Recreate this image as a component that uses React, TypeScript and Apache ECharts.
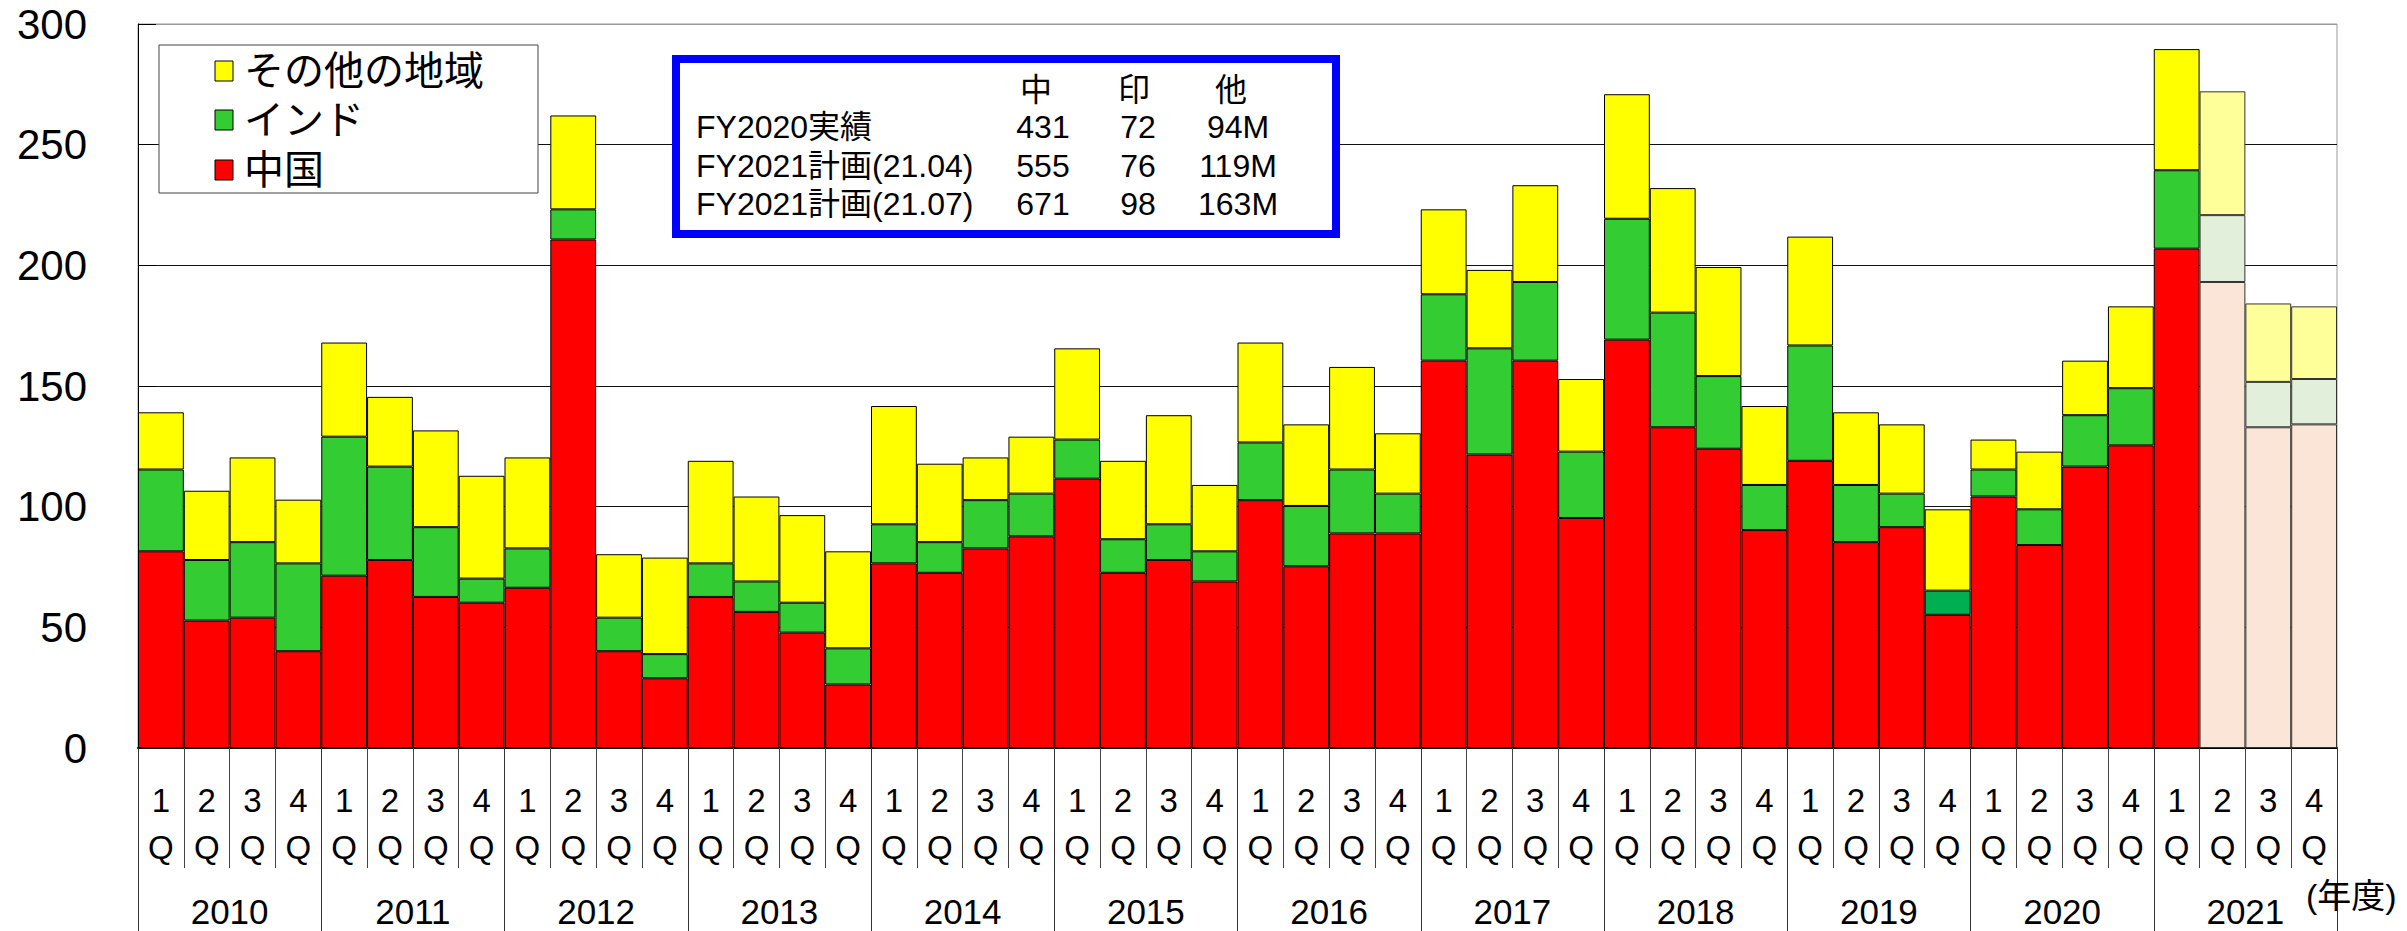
import React, { useEffect, useRef } from "react";
import * as echarts from "echarts";

const years = ["2010", "2011", "2012", "2013", "2014", "2015", "2016", "2017", "2018", "2019", "2020", "2021"];
const quarters = ["1", "2", "3", "4"];

// 中国
const china = [
  81.5, 52.8, 54.0, 40.1, 71.4, 77.9, 62.6, 60.2, 66.4, 210.7, 40.1, 28.9,
  62.6, 56.4, 47.8, 26.3, 76.5, 72.6, 82.7, 87.7, 111.6, 72.6, 77.9, 69.0,
  102.7, 75.3, 88.9, 88.9, 160.5, 121.6, 160.5, 95.3, 169.2, 132.9, 124.0, 90.3,
  119.0, 85.3, 91.5, 55.2, 104.2, 84.1, 116.6, 125.4, 206.9, 193.1, 132.9, 134.1,
];
// インド
const india = [
  33.9, 25.1, 31.3, 36.4, 57.6, 38.7, 28.9, 10.0, 16.3, 12.5, 13.9, 10.0,
  13.9, 12.6, 12.4, 15.0, 16.2, 12.7, 20.0, 17.7, 16.2, 13.9, 14.8, 12.5,
  23.9, 25.0, 26.5, 16.5, 27.5, 44.0, 32.6, 27.5, 50.1, 47.5, 30.1, 18.7,
  47.8, 23.7, 13.9, 10.0, 11.2, 14.8, 21.3, 23.7, 32.5, 27.7, 18.8, 18.8,
];
// その他の地域
const others = [
  23.7, 28.7, 35.1, 26.4, 39.0, 28.9, 40.1, 42.6, 37.7, 38.9, 26.3, 40.0,
  42.5, 35.2, 36.3, 40.2, 49.0, 32.5, 17.7, 23.6, 37.8, 32.5, 45.2, 27.5,
  41.4, 33.8, 42.5, 25.0, 35.2, 32.5, 40.1, 30.1, 51.6, 51.6, 45.2, 32.7,
  45.1, 30.1, 28.7, 33.7, 12.4, 23.9, 22.6, 33.9, 50.2, 51.3, 32.5, 30.1,
];

const forecastFrom = 45; // 2021 2Q onward are plan values
const darkGreenIndex = 39; // 2019 4Q India drawn in a darker green

const seriesNames = ["中国", "インド", "その他の地域"];
const legendOrder = ["その他の地域", "インド", "中国"];

const tableHeader = ["中", "印", "他"];
const tableRows = ["FY2020実績", "FY2021計画(21.04)", "FY2021計画(21.07)"];
const tableChina = ["431", "555", "671"];
const tableIndia = ["72", "76", "98"];
const tableOthers = ["94M", "119M", "163M"];

const yMin = 0;
const yMax = 300;
const yStep = 50;
const unitLabel = "(年度)";

const FONT = '"Liberation Sans", Arial, "Noto Sans CJK JP", sans-serif';
const solid = ["#FF0000", "#33CC33", "#FFFF00"];
const pale = ["#FBE5D6", "#E2EFDA", "#FFFF99"];

export default function App() {
  const ref = useRef<HTMLDivElement>(null);

  useEffect(() => {
    document.body.style.margin = "0";
    if (!ref.current) return;
    const chart = echarts.init(ref.current, undefined, { renderer: "svg" });

    const categories: string[] = [];
    years.forEach((y) => quarters.forEach((q) => categories.push(`${y}-${q}`)));

    const values = [china, india, others];
    const series = values.map((vals, s) => ({
      name: seriesNames[s],
      type: "bar",
      stack: "total",
      barCategoryGap: "0%",
      xAxisIndex: 0,
      yAxisIndex: 0,
      itemStyle: { borderColor: "#000", borderWidth: 1, color: solid[s] },
      emphasis: { disabled: true },
      data: vals.map((v, i) => ({
        value: v,
        itemStyle: {
          color:
            i >= forecastFrom
              ? pale[s]
              : s === 1 && i === darkGreenIndex
              ? "#00B050"
              : solid[s],
          borderColor: i >= forecastFrom ? "#333" : "#000",
        },
      })),
    }));

    const legendColor: Record<string, number> = { 中国: 0, インド: 1, その他の地域: 2 };
    const legendRowsY = [71, 120, 170];
    const graphics: any[] = [
      {
        type: "rect",
        z: 100,
        shape: { x: 159, y: 45, width: 379, height: 148 },
        style: { fill: "#fff", stroke: "#444", lineWidth: 1 },
      },
    ];
    legendOrder.forEach((name, k) => {
      graphics.push({
        type: "rect",
        z: 101,
        shape: { x: 215, y: legendRowsY[k] - 10, width: 18, height: 20 },
        style: { fill: solid[legendColor[name]], stroke: "#000", lineWidth: 1 },
      });
      graphics.push({
        type: "text",
        z: 101,
        x: 244,
        y: legendRowsY[k],
        style: {
          text: name,
          fontSize: 40,
          fontFamily: FONT,
          fill: "#000",
          align: "left",
          verticalAlign: "middle",
          textAlign: "left",
          textVerticalAlign: "middle",
        },
      });
    });

    // info box
    graphics.push({
      type: "rect",
      z: 100,
      shape: { x: 676, y: 59, width: 660, height: 175 },
      style: { fill: "#fff", stroke: "#0000FF", lineWidth: 8 },
    });
    const txt = (text: string, x: number, y: number, align: string) => ({
      type: "text",
      z: 101,
      x,
      y,
      style: {
        text,
        fontSize: 32,
        fontFamily: FONT,
        fill: "#000",
        align,
        verticalAlign: "middle",
        textAlign: align,
        textVerticalAlign: "middle",
      },
    });
    const headerX = [1036, 1134, 1231];
    tableHeader.forEach((h, c) => graphics.push(txt(h, headerX[c], 90, "center")));
    const rowY = [127, 166, 204];
    const colX = [1043, 1138, 1238];
    tableRows.forEach((r, k) => {
      graphics.push(txt(r, 696, rowY[k], "left"));
      graphics.push(txt(tableChina[k], colX[0], rowY[k], "center"));
      graphics.push(txt(tableIndia[k], colX[1], rowY[k], "center"));
      graphics.push(txt(tableOthers[k], colX[2], rowY[k], "center"));
    });
    graphics.push({
      type: "text",
      z: 101,
      x: 2306,
      y: 896,
      style: {
        text: unitLabel,
        fontSize: 34,
        fontFamily: FONT,
        fill: "#000",
        align: "left",
        verticalAlign: "middle",
        textAlign: "left",
        textVerticalAlign: "middle",
      },
    });

    const splitColors = [];
    for (let v = yMin; v <= yMax; v += yStep) splitColors.push(v === yMax ? "#999" : "#111");

    chart.setOption({
      animation: false,
      textStyle: { fontFamily: FONT },
      grid: {
        left: 138,
        right: 70,
        top: 24,
        bottom: 183,
        show: true,
        borderColor: "#999",
        borderWidth: 1,
        backgroundColor: "transparent",
      },
      xAxis: [
        {
          type: "category",
          data: categories,
          position: "bottom",
          axisLine: { show: true, lineStyle: { color: "#000", width: 2 } },
          axisTick: { show: true, interval: 0, length: 120, lineStyle: { color: "#444", width: 1 } },
          axisLabel: {
            interval: 0,
            fontSize: 33,
            lineHeight: 47,
            margin: 29,
            color: "#000",
            formatter: (v: string) => `${v.split("-")[1]}\nQ`,
          },
          splitLine: { show: false },
        },
        {
          type: "category",
          data: years,
          position: "bottom",
          offset: 0,
          axisLine: { show: false },
          axisTick: { show: true, interval: 0, length: 183, lineStyle: { color: "#333", width: 1 } },
          axisLabel: { interval: 0, fontSize: 35, lineHeight: 30, margin: 148, color: "#000" },
          splitLine: { show: false },
        },
      ],
      yAxis: {
        type: "value",
        min: yMin,
        max: yMax,
        interval: yStep,
        axisLine: { show: true, lineStyle: { color: "#000", width: 1 } },
        axisTick: { show: true, inside: true, length: 18, lineStyle: { color: "#000" } },
        axisLabel: { fontSize: 42, color: "#000", margin: 51, padding: [10, 0, 0, 0] },
        splitLine: { show: true, lineStyle: { color: splitColors, width: 1 } },
      },
      series,
      graphic: { elements: graphics },
    });

    return () => chart.dispose();
  }, []);

  return (
    <div
      ref={ref}
      style={{ position: "absolute", left: 0, top: 0, width: 2407, height: 931, background: "#fff" }}
    />
  );
}
